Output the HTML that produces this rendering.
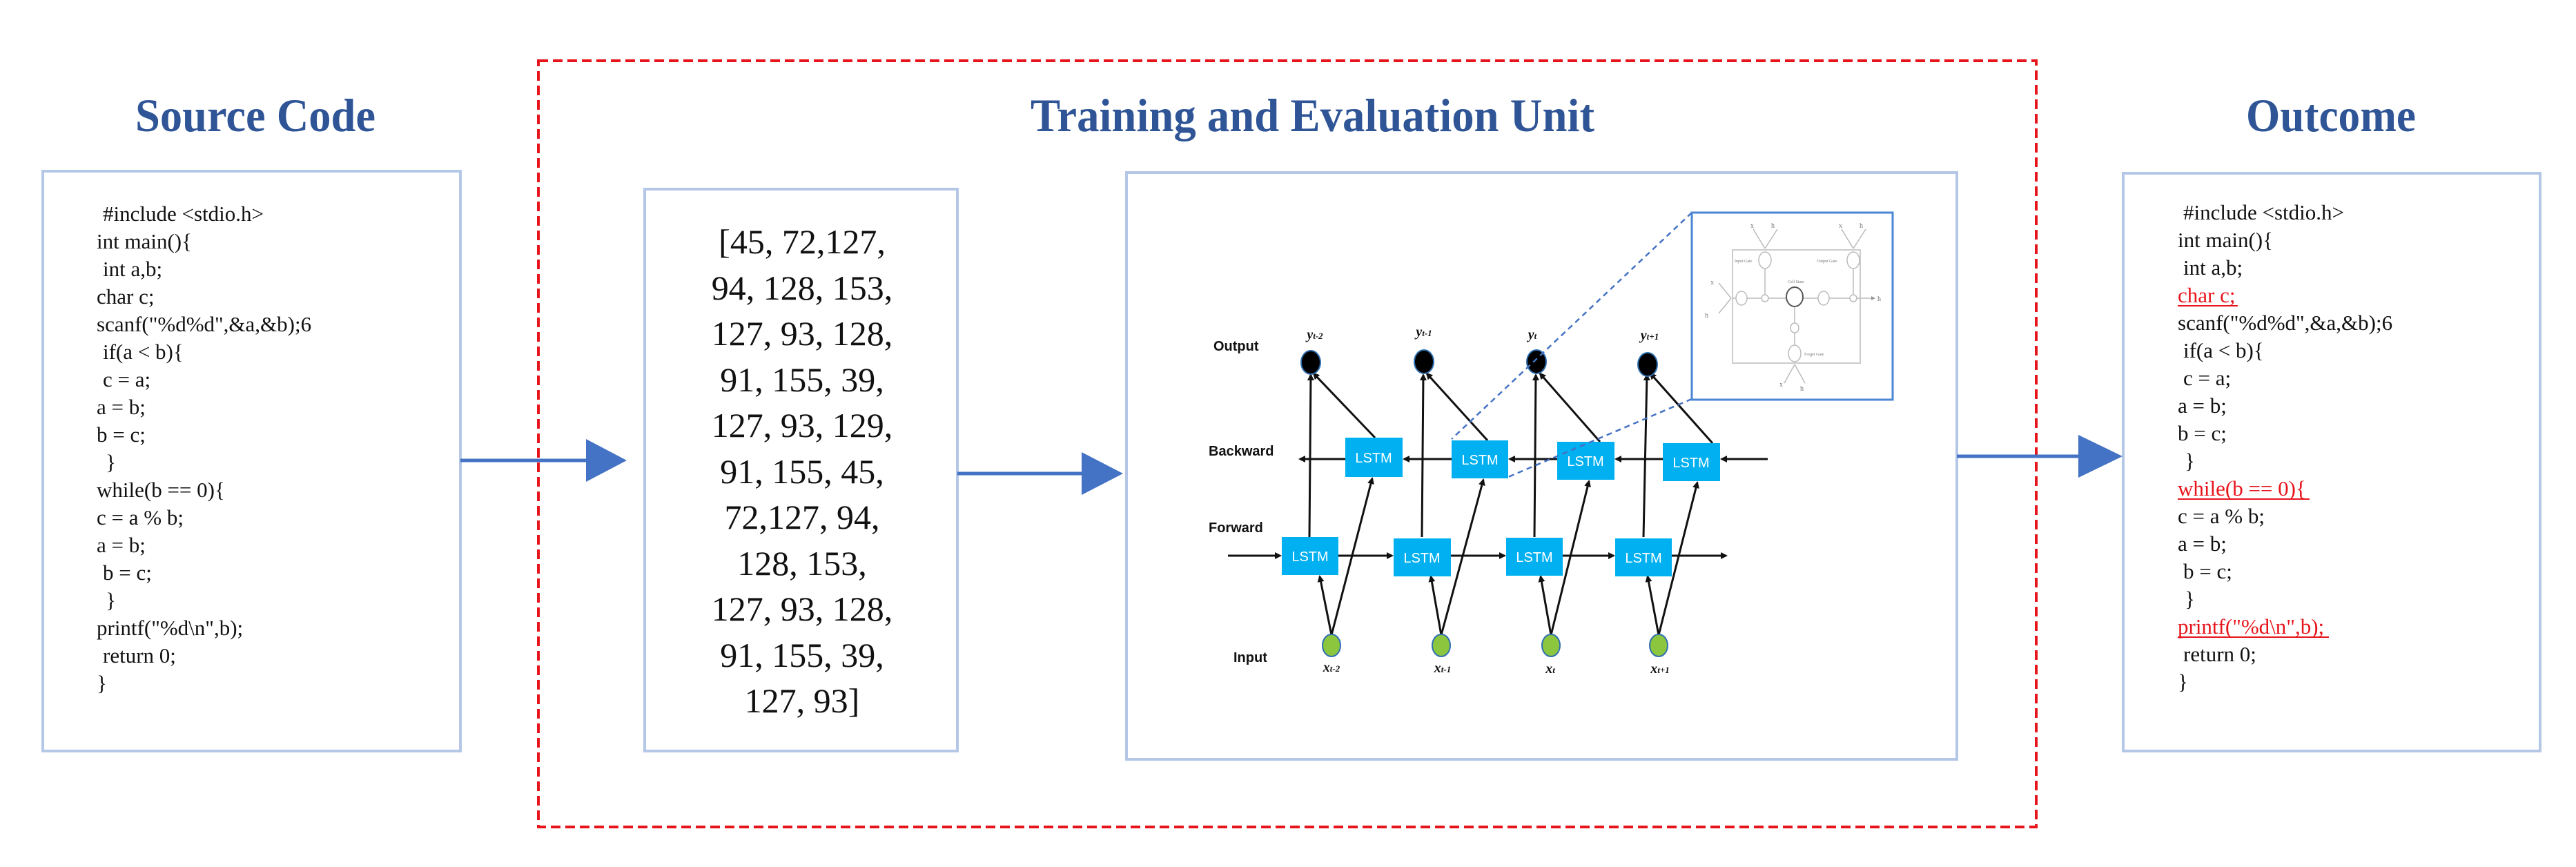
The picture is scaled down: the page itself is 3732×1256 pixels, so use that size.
<!DOCTYPE html>
<html><head><meta charset="utf-8"><style>
html,body{margin:0;padding:0;background:#fff;}
svg{display:block;}
.code{font-family:"Liberation Serif",serif;font-size:31px;fill:#111;}
.ocode{font-family:"Liberation Serif",serif;font-size:31px;fill:#111;}
.red{fill:#e8141b;}
.title{font-family:"Liberation Serif",serif;font-weight:bold;font-size:68px;fill:#2f5597;}
.num{font-family:"Liberation Serif",serif;font-size:50px;fill:#111;}
.lab{font-family:"Liberation Sans",sans-serif;font-weight:bold;font-size:20px;fill:#111;}
.lt{font-family:"Liberation Sans",sans-serif;font-size:20px;fill:#fff;}
.sub{font-family:"Liberation Serif",serif;font-style:italic;font-weight:bold;font-size:20px;fill:#111;}
</style></head><body>
<svg width="3732" height="1256" viewBox="0 0 3732 1256" xmlns="http://www.w3.org/2000/svg">
<defs>
<marker id="ah" markerWidth="10" markerHeight="10" refX="8" refY="5" orient="auto" markerUnits="userSpaceOnUse"><path d="M0,0 L10,5 L0,10 z" fill="#111"/></marker>
<marker id="ah2" markerWidth="6" markerHeight="6" refX="5" refY="3" orient="auto" markerUnits="userSpaceOnUse"><path d="M0,0 L6,3 L0,6 z" fill="#999"/></marker>
</defs>

<text class="title" x="196" y="190" textLength="348" lengthAdjust="spacingAndGlyphs">Source Code</text>
<text class="title" x="1493" y="190" textLength="817" lengthAdjust="spacingAndGlyphs">Training and Evaluation Unit</text>
<text class="title" x="3254" y="190" textLength="246" lengthAdjust="spacingAndGlyphs">Outcome</text>

<rect x="780" y="88" width="2170" height="1110" fill="none" stroke="#e8141b" stroke-width="4" stroke-dasharray="14,7"/>

<rect x="62" y="248" width="605" height="840" fill="#fff" stroke="#b4c7e7" stroke-width="4"/>
<rect x="934" y="274" width="453" height="814" fill="#fff" stroke="#b4c7e7" stroke-width="4"/>
<rect x="1632" y="250" width="1203" height="850" fill="#fff" stroke="#b4c7e7" stroke-width="4"/>
<rect x="3076" y="251" width="604" height="837" fill="#fff" stroke="#b4c7e7" stroke-width="4"/>

<line x1="667" y1="667" x2="852" y2="667" stroke="#4472c4" stroke-width="5"/>
<polygon points="849,636 908,667 849,698" fill="#4472c4"/>
<line x1="1387" y1="686" x2="1570" y2="686" stroke="#4472c4" stroke-width="5"/>
<polygon points="1567,655 1627,686 1567,717" fill="#4472c4"/>
<line x1="2835" y1="661" x2="3014" y2="661" stroke="#4472c4" stroke-width="5"/>
<polygon points="3011,630 3075,661 3011,692" fill="#4472c4"/>

<g class="code">
<text x="149" y="320">#include &lt;stdio.h&gt;</text>
<text x="140" y="360">int main(){</text>
<text x="149" y="400">int a,b;</text>
<text x="140" y="440">char c;</text>
<text x="140" y="480">scanf("%d%d",&amp;a,&amp;b);6</text>
<text x="149" y="520">if(a &lt; b){</text>
<text x="149" y="560">c = a;</text>
<text x="140" y="600">a = b;</text>
<text x="140" y="640">b = c;</text>
<text x="153" y="680">}</text>
<text x="140" y="720">while(b == 0){</text>
<text x="140" y="760">c = a % b;</text>
<text x="140" y="800">a = b;</text>
<text x="149" y="840">b = c;</text>
<text x="153" y="880">}</text>
<text x="140" y="920">printf("%d\n",b);</text>
<text x="149" y="960">return 0;</text>
<text x="140" y="1000">}</text>
</g>

<g class="ocode">
<text x="3163" y="318">#include &lt;stdio.h&gt;</text>
<text x="3155" y="358">int main(){</text>
<text x="3163" y="398">int a,b;</text>
<text x="3155" y="438" class="red">char c;</text>
<text x="3155" y="478">scanf("%d%d",&amp;a,&amp;b);6</text>
<text x="3163" y="518">if(a &lt; b){</text>
<text x="3163" y="558">c = a;</text>
<text x="3155" y="598">a = b;</text>
<text x="3155" y="638">b = c;</text>
<text x="3165" y="678">}</text>
<text x="3155" y="718" class="red">while(b == 0){</text>
<text x="3155" y="758">c = a % b;</text>
<text x="3155" y="798">a = b;</text>
<text x="3163" y="838">b = c;</text>
<text x="3165" y="878">}</text>
<text x="3155" y="918" class="red">printf("%d\n",b);</text>
<text x="3163" y="958">return 0;</text>
<text x="3155" y="998">}</text>
</g>
<g stroke="#e8141b" stroke-width="2">
<line x1="3155" y1="443" x2="3242" y2="443"/>
<line x1="3155" y1="723" x2="3346" y2="723"/>
<line x1="3155" y1="923" x2="3374" y2="923"/>
</g>

<g class="num" text-anchor="middle">
<text x="1162" y="367">[45, 72,127,</text>
<text x="1162" y="434">94, 128, 153,</text>
<text x="1162" y="500">127, 93, 128,</text>
<text x="1162" y="567">91, 155, 39,</text>
<text x="1162" y="633">127, 93, 129,</text>
<text x="1162" y="700">91, 155, 45,</text>
<text x="1162" y="766">72,127, 94,</text>
<text x="1162" y="833">128, 153,</text>
<text x="1162" y="899">127, 93, 128,</text>
<text x="1162" y="966">91, 155, 39,</text>
<text x="1162" y="1032">127, 93]</text>
</g>

<g class="lab">
<text x="1758" y="508">Output</text>
<text x="1751" y="660">Backward</text>
<text x="1751" y="771">Forward</text>
<text x="1787" y="959">Input</text>
</g>

<g stroke="#111" stroke-width="3" fill="none">
<line x1="1779" y1="805" x2="1855" y2="805" marker-end="url(#ah)"/>
<line x1="1939" y1="805" x2="2017" y2="805" marker-end="url(#ah)"/>
<line x1="2102" y1="805" x2="2180" y2="805" marker-end="url(#ah)"/>
<line x1="2264" y1="805" x2="2338" y2="805" marker-end="url(#ah)"/>
<line x1="2422" y1="805" x2="2501" y2="805" marker-end="url(#ah)"/>
<line x1="2561" y1="665" x2="2494" y2="665" marker-end="url(#ah)"/>
<line x1="2409" y1="665" x2="2341" y2="665" marker-end="url(#ah)"/>
<line x1="2256" y1="665" x2="2187" y2="665" marker-end="url(#ah)"/>
<line x1="2103" y1="665" x2="2034" y2="665" marker-end="url(#ah)"/>
<line x1="1949" y1="665" x2="1883" y2="665" marker-end="url(#ah)"/>
<line x1="1897" y1="778" x2="1899" y2="543" marker-end="url(#ah)"/>
<line x1="2060" y1="778" x2="2062" y2="543" marker-end="url(#ah)"/>
<line x1="2223" y1="778" x2="2225" y2="543" marker-end="url(#ah)"/>
<line x1="2381" y1="778" x2="2386" y2="543" marker-end="url(#ah)"/>
<line x1="1992" y1="634" x2="1903" y2="541" marker-end="url(#ah)"/>
<line x1="2155" y1="638" x2="2067" y2="541" marker-end="url(#ah)"/>
<line x1="2318" y1="640" x2="2231" y2="541" marker-end="url(#ah)"/>
<line x1="2481" y1="642" x2="2391" y2="541" marker-end="url(#ah)"/>
<line x1="1929" y1="920" x2="1912" y2="835" marker-end="url(#ah)"/>
<line x1="2088" y1="920" x2="2073" y2="835" marker-end="url(#ah)"/>
<line x1="2247" y1="920" x2="2232" y2="835" marker-end="url(#ah)"/>
<line x1="2403" y1="920" x2="2387" y2="835" marker-end="url(#ah)"/>
<line x1="1929" y1="920" x2="1988" y2="693" marker-end="url(#ah)"/>
<line x1="2088" y1="920" x2="2149" y2="695" marker-end="url(#ah)"/>
<line x1="2247" y1="920" x2="2302" y2="697" marker-end="url(#ah)"/>
<line x1="2403" y1="920" x2="2459" y2="699" marker-end="url(#ah)"/>
</g>

<g fill="#00b0f0">
<rect x="1857" y="778" width="82" height="55"/>
<rect x="2019" y="780" width="83" height="55"/>
<rect x="2182" y="779" width="82" height="55"/>
<rect x="2340" y="780" width="82" height="55"/>
<rect x="1949" y="634" width="83" height="57"/>
<rect x="2103" y="638" width="82" height="55"/>
<rect x="2256" y="640" width="83" height="55"/>
<rect x="2409" y="642" width="83" height="55"/>
</g>
<g class="lt" text-anchor="middle">
<text x="1898" y="813">LSTM</text>
<text x="2060" y="815">LSTM</text>
<text x="2223" y="814">LSTM</text>
<text x="2381" y="815">LSTM</text>
<text x="1990" y="670">LSTM</text>
<text x="2144" y="673">LSTM</text>
<text x="2297" y="675">LSTM</text>
<text x="2450" y="677">LSTM</text>
</g>

<g fill="#000" stroke="#2f6fb0" stroke-width="2">
<ellipse cx="1899" cy="525" rx="14" ry="17"/>
<ellipse cx="2063" cy="524" rx="14" ry="17"/>
<ellipse cx="2226" cy="524" rx="14" ry="17"/>
<ellipse cx="2387" cy="528" rx="14" ry="17"/>
</g>
<g fill="#8cc63f" stroke="#2f6fb0" stroke-width="2">
<ellipse cx="1929" cy="935" rx="13" ry="16"/>
<ellipse cx="2088" cy="935" rx="13" ry="16"/>
<ellipse cx="2247" cy="935" rx="13" ry="16"/>
<ellipse cx="2403" cy="935" rx="13" ry="16"/>
</g>
<g class="sub" text-anchor="middle">
<text x="1905" y="491">y<tspan font-size="13">t-2</tspan></text>
<text x="2063" y="487">y<tspan font-size="13">t-1</tspan></text>
<text x="2220" y="491">y<tspan font-size="13">t</tspan></text>
<text x="2390" y="492">y<tspan font-size="13">t+1</tspan></text>
<text x="1929" y="973">x<tspan font-size="13">t-2</tspan></text>
<text x="2090" y="974">x<tspan font-size="13">t-1</tspan></text>
<text x="2246" y="975">x<tspan font-size="13">t</tspan></text>
<text x="2405" y="975">x<tspan font-size="13">t+1</tspan></text>
</g>

<g stroke="#4472c4" stroke-width="2.5" stroke-dasharray="8,6">
<line x1="2451" y1="308" x2="2103" y2="636"/>
<line x1="2451" y1="578" x2="2185" y2="691"/>
</g>

<rect x="2451" y="308" width="291" height="271" fill="#fff" stroke="#4a86d4" stroke-width="3"/>
<g stroke="#bbb" stroke-width="1.5" fill="none">
<rect x="2510" y="362" width="185" height="164" stroke="#ccc" stroke-width="2"/>
<line x1="2510" y1="432" x2="2716" y2="432" marker-end="url(#ah2)"/>
<line x1="2557" y1="388" x2="2557" y2="428"/>
<line x1="2685" y1="388" x2="2685" y2="428"/>
<line x1="2600" y1="443" x2="2600" y2="510"/>
<line x1="2540" y1="332" x2="2557" y2="360"/>
<line x1="2575" y1="332" x2="2557" y2="360"/>
<line x1="2668" y1="332" x2="2685" y2="360"/>
<line x1="2703" y1="332" x2="2685" y2="360"/>
<line x1="2490" y1="410" x2="2508" y2="432"/>
<line x1="2490" y1="454" x2="2508" y2="432"/>
<line x1="2585" y1="555" x2="2600" y2="528"/>
<line x1="2615" y1="555" x2="2600" y2="528"/>
<ellipse cx="2557" cy="377" rx="9" ry="12" fill="#fff"/>
<ellipse cx="2685" cy="377" rx="9" ry="12" fill="#fff"/>
<ellipse cx="2523" cy="432" rx="8" ry="10" fill="#fff"/>
<ellipse cx="2557" cy="432" rx="5" ry="5" fill="#fff"/>
<ellipse cx="2642" cy="432" rx="8" ry="10" fill="#fff"/>
<ellipse cx="2685" cy="432" rx="5" ry="5" fill="#fff"/>
<ellipse cx="2600" cy="475" rx="6" ry="7" fill="#fff"/>
<ellipse cx="2600" cy="512" rx="9" ry="12" fill="#fff"/>
</g>
<ellipse cx="2600" cy="430" rx="12" ry="14" fill="#fff" stroke="#555" stroke-width="2"/>
<g font-family="Liberation Serif,serif" font-size="10" fill="#777">
<text x="2536" y="330">x</text><text x="2566" y="330">h</text>
<text x="2664" y="330">x</text><text x="2694" y="330">h</text>
<text x="2478" y="412">x</text><text x="2470" y="460">h</text>
<text x="2720" y="436">h</text>
<text x="2578" y="560">x</text><text x="2608" y="566">h</text>
<text x="2513" y="380" font-size="6">Input Gate</text>
<text x="2632" y="380" font-size="6">Output Gate</text>
<text x="2614" y="515" font-size="6">Forget Gate</text>
<text x="2590" y="410" font-size="6">Cell State</text>
</g>
</svg>
</body></html>
